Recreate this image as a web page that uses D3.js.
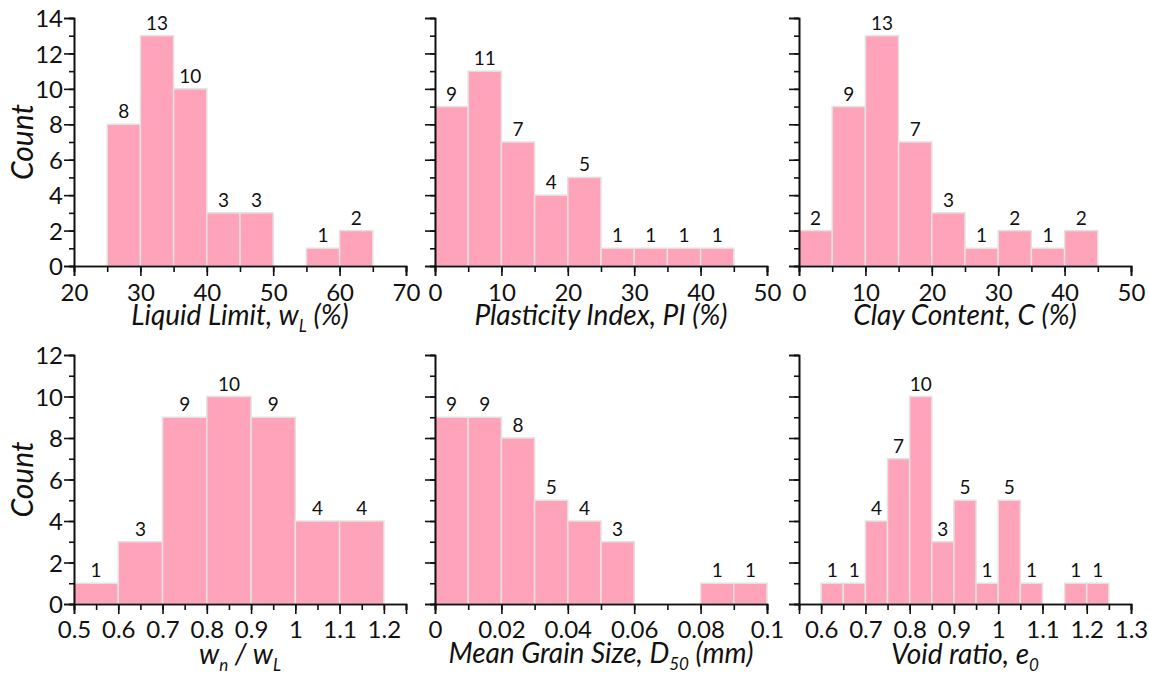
<!DOCTYPE html>
<html><head><meta charset="utf-8">
<script src="https://cdn.jsdelivr.net/npm/d3@7"></script>
<style>
html,body{margin:0;padding:0;background:#fff;}
svg{display:block;font-family:Lato,"Open Sans",sans-serif;}
</style></head>
<body><svg id="c" width="1149" height="674"></svg>
<script>
// ---- data ----
const llBinStart = [25,30,35,40,45,50,55,60];
const llCounts   = [8,13,10,3,3,0,1,2];
const piBinStart = [0,5,10,15,20,25,30,35,40];
const piCounts   = [9,11,7,4,5,1,1,1,1];
const ccBinStart = [0,5,10,15,20,25,30,35,40];
const ccCounts   = [2,9,13,7,3,1,2,1,2];
const wrBinStart = [0.5,0.6,0.7,0.8,0.9,1.0,1.1];
const wrCounts   = [1,3,9,10,9,4,4];
const dBinStart  = [0,0.01,0.02,0.03,0.04,0.05,0.06,0.07,0.08,0.09];
const dCounts    = [9,9,8,5,4,3,0,0,1,1];
const eBinStart  = [0.6,0.65,0.7,0.75,0.8,0.85,0.9,0.95,1.0,1.05,1.1,1.15,1.2];
const eCounts    = [1,1,4,7,10,3,5,1,5,1,0,1,1];

const llTicks = [20,30,40,50,60,70];
const piTicks = [0,10,20,30,40,50];
const ccTicks = [0,10,20,30,40,50];
const wrTicks = [0.5,0.6,0.7,0.8,0.9,1,1.1,1.2];
const dTicks  = [0,0.02,0.04,0.06,0.08,0.1];
const eTicks  = [0.6,0.7,0.8,0.9,1,1.1,1.2,1.3];
const topYTicks = [0,2,4,6,8,10,12,14];
const botYTicks = [0,2,4,6,8,10,12];

const panels = [
  {starts:llBinStart,counts:llCounts,w:5,dom:[20,70],ticks:llTicks,minor:5,ymax:14,yt:topYTicks,
   title:[["Liquid Limit, w",0],["L",1],[" (%)",0]],row:0,col:0,ylab:true,tdy:59},
  {starts:piBinStart,counts:piCounts,w:5,dom:[0,50],ticks:piTicks,minor:5,ymax:14,yt:topYTicks,
   title:[["Plasticity Index, PI (%)",0]],row:0,col:1,ylab:false,tdy:59},
  {starts:ccBinStart,counts:ccCounts,w:5,dom:[0,50],ticks:ccTicks,minor:5,ymax:14,yt:topYTicks,
   title:[["Clay Content, C (%)",0]],row:0,col:2,ylab:false,tdy:59},
  {starts:wrBinStart,counts:wrCounts,w:0.1,dom:[0.5,1.25],ticks:wrTicks,minor:0.05,ymax:12,yt:botYTicks,
   title:[["w",0],["n",1],[" / w",0],["L",1]],row:1,col:0,ylab:true,tdy:60},
  {starts:dBinStart,counts:dCounts,w:0.01,dom:[0,0.1],ticks:dTicks,minor:0.01,ymax:12,yt:botYTicks,
   title:[["Mean Grain Size, D",0],["50",1],[" (mm)",0]],row:1,col:1,ylab:false,tdy:59},
  {starts:eBinStart,counts:eCounts,w:0.05,dom:[0.55,1.3],ticks:eTicks,minor:0.05,ymax:12,yt:botYTicks,
   title:[["Void ratio, e",0],["0",1]],row:1,col:2,ylab:false,tdy:60}
];

// ---- layout ----
const colX = [[74,406],[435,767],[799,1131]];
const rowY = [[18,266],[355,604]];
const svg = d3.select("#c");
const fmt = d => String(+d.toFixed(3));
const TICKFS = 24, TITLEFS = 28, VALFS = 19;

panels.forEach(p => {
  const [x0,x1] = colX[p.col], [y0,y1] = rowY[p.row];
  const x = d3.scaleLinear().domain(p.dom).range([x0,x1]);
  const y = d3.scaleLinear().domain([0,p.ymax]).range([y1,y0]);
  const g = svg.append("g");

  const bins = p.starts.map((s,i)=>({s, e:s+p.w, c:p.counts[i]})).filter(b=>b.c>0);
  g.selectAll("rect.bar").data(bins).join("rect")
    .attr("x", d=>x(d.s)).attr("width", d=>x(d.e)-x(d.s))
    .attr("y", d=>y(d.c)).attr("height", d=>y(0)-y(d.c))
    .attr("fill","#ffa3ba").attr("stroke","#e2e2e2").attr("stroke-width",1.5);
  g.selectAll("text.val").data(bins).join("text")
    .attr("x", d=>(x(d.s)+x(d.e))/2).attr("y", d=>y(d.c)-6)
    .attr("text-anchor","middle").attr("font-size",VALFS).attr("fill","#111")
    .text(d=>d.c);

  const nMinor = Math.round((p.dom[1]-p.dom[0])/p.minor);
  const minorVals = d3.range(nMinor+1).map(i=>p.dom[0]+i*p.minor);
  const xMinor = d3.axisBottom(x).tickValues(minorVals).tickSize(6).tickFormat("");
  const xMajor = d3.axisBottom(x).tickValues(p.ticks).tickSize(10).tickFormat(fmt);
  const gxm = g.append("g").attr("transform",`translate(0,${y1})`).call(xMinor);
  const gx = g.append("g").attr("transform",`translate(0,${y1})`).call(xMajor);
  [gxm,gx].forEach(a=>{a.select(".domain").attr("stroke","#111").attr("stroke-width",1.6);
    a.selectAll(".tick line").attr("stroke","#111").attr("stroke-width",1.6);});
  gx.selectAll(".tick text").attr("font-size",TICKFS).attr("fill","#111").attr("font-family","Lato")
    .attr("dy",null).attr("y",p.row===0?35:34);

  const yMinorVals = d3.range(0,p.ymax+1,1);
  const yMinor = d3.axisLeft(y).tickValues(yMinorVals).tickSize(5).tickFormat("");
  const yMajor = d3.axisLeft(y).tickValues(p.yt).tickSize(10).tickFormat(p.ylab? d3.format("d") : "").tickPadding(1);
  const gym = g.append("g").attr("transform",`translate(${x0},0)`).call(yMinor);
  const gy = g.append("g").attr("transform",`translate(${x0},0)`).call(yMajor);
  [gym,gy].forEach(a=>{a.select(".domain").attr("stroke","#111").attr("stroke-width",1.6);
    a.selectAll(".tick line").attr("stroke","#111").attr("stroke-width",1.6);});
  gy.selectAll(".tick text").attr("font-size",TICKFS).attr("fill","#111").attr("font-family","Lato")
    .attr("dy","0.36em");

  const t = g.append("text").attr("x",(x0+x1)/2).attr("y",y1+p.tdy)
    .attr("text-anchor","middle").attr("font-size",TITLEFS).attr("font-style","italic").attr("fill","#111");
  p.title.forEach(([s,sub],i)=>{
    const ts = t.append("tspan").text(s);
    const prevSub = i>0 && p.title[i-1][1];
    if(sub){ ts.attr("font-size",17).attr("dy", prevSub?0:7); }
    else { ts.attr("dy", prevSub?-7:0); }
  });

  if(p.ylab){
    svg.append("text").attr("transform",`translate(33,${(y0+y1)/2}) rotate(-90)`)
      .attr("text-anchor","middle").attr("font-size",30).attr("font-style","italic").attr("fill","#111")
      .text("Count");
  }
});
</script></body></html>
